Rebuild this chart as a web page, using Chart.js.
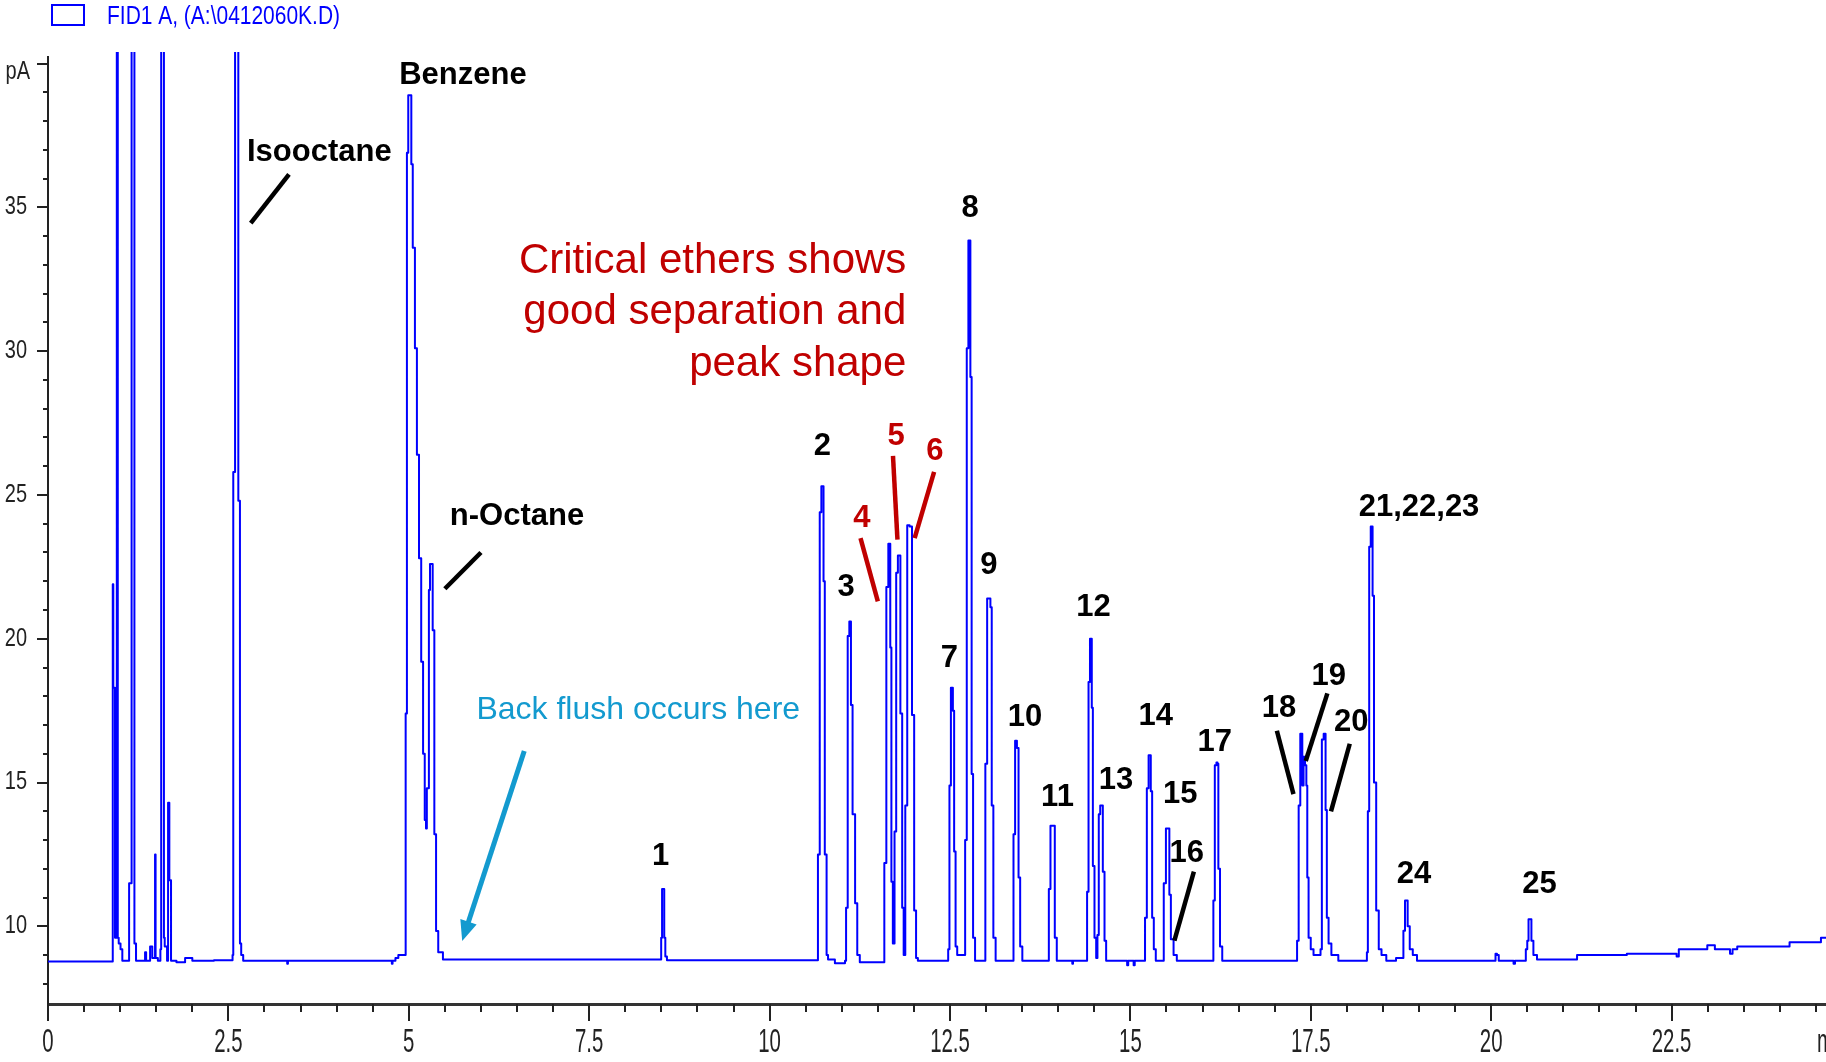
<!DOCTYPE html>
<html>
<head>
<meta charset="utf-8">
<title>Kromatogram FID1 A</title>
<script src="https://cdn.jsdelivr.net/npm/chart.js@4.4.1/dist/chart.umd.min.js"></script>
<style>
    html, body { margin: 0; padding: 0; background: #ffffff; }
    #wadah { width: 1826px; height: 1062px; }
</style>
</head>
<body>
<div id="wadah"><canvas id="grafik" width="1826" height="1062"></canvas></div>
<script>
// --- DATA KROMATOGRAM (waktu dalam menit, sinyal dalam pA) ---
// Puncak pelarut yang terpotong di atas diberi nilai 60 (keluar skala)
var waktu = [
    0.00, 0.895, 0.90, 0.91, 0.925, 0.932, 0.95, 0.957, 0.964, 0.97, 0.99, 1.02, 1.04,
    1.12, 1.128, 1.155, 1.162, 1.195, 1.20, 1.215, 1.225,
    1.34, 1.35, 1.37, 1.41, 1.42, 1.44, 1.45, 1.48, 1.487, 1.495,
    1.55, 1.565, 1.572, 1.603, 1.61, 1.625, 1.64, 1.66, 1.668, 1.678, 1.685, 1.70, 1.71,
    1.85, 1.95, 2.05,
    2.55, 2.565, 2.57, 2.59, 2.595, 2.635, 2.64, 2.655, 2.665, 2.69, 2.72,
    3.31, 3.32, 3.33, 4.76, 4.77, 4.78, 4.85, 4.86, 4.95,
    // benzene + n-octane
    4.963, 4.985, 5.00, 5.03, 5.04, 5.07, 5.10, 5.125, 5.158, 5.186, 5.21, 5.232, 5.245, 5.255, 5.27,
    5.287, 5.30, 5.32, 5.342, 5.366, 5.39, 5.426, 5.52,
    // 1
    8.49, 8.505, 8.515, 8.535, 8.545, 8.565, 8.59,
    // 2
    10.66, 10.68, 10.71, 10.725, 10.745, 10.75, 10.78, 10.80, 10.82, 10.99, 11.04,
    // 3
    11.05, 11.07, 11.095, 11.115, 11.125, 11.13, 11.17, 11.20, 11.23, 11.27,
    // 4, 5, 6
    11.58, 11.60, 11.636, 11.655, 11.665, 11.68, 11.696, 11.72,
    11.743, 11.766, 11.79, 11.80, 11.825, 11.85, 11.866,
    11.895, 11.92, 11.96, 11.987, 12.02, 12.04, 12.07,
    // 7
    12.47, 12.48, 12.505, 12.52, 12.53, 12.55, 12.565, 12.59, 12.61, 12.70,
    // 8
    12.72, 12.745, 12.765, 12.775, 12.79, 12.81, 12.83, 12.865,
    // 9
    12.98, 13.00, 13.03, 13.05, 13.07, 13.087, 13.115, 13.15,
    // 10
    13.37, 13.39, 13.415, 13.44, 13.46, 13.485, 13.52,
    // 11
    13.86, 13.88, 13.905, 13.945, 13.96, 14.00, 14.19, 14.20, 14.21,
    // 12
    14.39, 14.41, 14.43, 14.45, 14.46, 14.47, 14.49, 14.515, 14.537,
    // 13
    14.55, 14.574, 14.59, 14.606, 14.63, 14.653, 14.675,
    14.95, 14.96, 14.98, 15.04, 15.05, 15.07,
    // 14
    15.19, 15.216, 15.24, 15.265, 15.275, 15.29, 15.313, 15.336, 15.368,
    // 15, 16
    15.45, 15.475, 15.51, 15.535, 15.545, 15.577, 15.62, 15.667,
    // 17
    16.14, 16.16, 16.18, 16.205, 16.21, 16.228, 16.256, 16.29,
    // 18, 19
    17.30, 17.32, 17.344, 17.365, 17.375, 17.39, 17.41, 17.43, 17.447, 17.456, 17.483, 17.516, 17.56,
    // 20
    17.63, 17.64, 17.667, 17.69, 17.70, 17.71, 17.735, 17.758, 17.813, 17.95,
    // 21, 22, 23
    18.27, 18.285, 18.297, 18.322, 18.34, 18.35, 18.363, 18.389, 18.424, 18.46, 18.50, 18.593,
    // 24
    18.77, 18.797, 18.815, 18.835, 18.85, 18.893, 18.934, 19.01,
    20.05, 20.07, 20.09, 20.12, 20.30, 20.32, 20.34,
    // 25
    20.47, 20.49, 20.51, 20.525, 20.545, 20.57, 20.60, 20.67,
    // ekor baseline
    21.18, 21.20, 22.56, 22.58, 22.62, 22.99, 23.00, 23.09, 23.11, 23.29, 23.33, 23.36,
    23.46, 24.12, 24.15, 24.56, 24.58, 24.64
];

var sinyal = [
    8.78, 8.78, 21.9, 18.3, 18.3, 9.6, 9.6, 60, 60, 9.6, 9.4, 9.2, 8.8,
    8.8, 11.5, 11.5, 60, 60, 9.4, 9.4, 8.8,
    8.8, 9.1, 8.8, 8.8, 9.3, 9.3, 8.9, 8.9, 12.5, 8.9,
    8.8, 9.2, 60, 60, 9.6, 9.3, 9.3, 8.8, 14.3, 14.3, 11.6, 11.6, 8.8,
    8.75, 8.9, 8.8,
    8.82, 9.0, 25.8, 25.8, 60, 60, 24.8, 24.8, 9.4, 9.0, 8.8,
    8.8, 8.7, 8.8, 8.8, 8.7, 8.8, 8.9, 9.0, 9.0,
    // benzene + n-octane
    17.4, 36.9, 38.9, 38.9, 36.5, 33.6, 30.1, 26.4, 22.8, 19.2, 16.0, 13.7, 13.4, 14.8, 14.8,
    21.7, 22.6, 22.6, 20.3, 13.2, 9.84, 9.1, 8.85,
    // 1
    8.85, 9.6, 11.3, 11.3, 9.6, 8.95, 8.82,
    // 2
    8.82, 12.5, 24.4, 25.3, 25.3, 22.0, 12.5, 9.0, 8.85, 8.72, 8.72,
    // 3
    8.8, 10.65, 20.1, 20.6, 20.6, 17.7, 13.9, 10.8, 9.0, 8.75,
    // 4, 5, 6
    8.75, 12.2, 21.8, 23.3, 23.3, 19.7, 11.55, 9.4,
    13.3, 22.3, 22.9, 22.9, 17.4, 10.65, 9.0,
    14.2, 23.95, 23.9, 17.35, 10.55, 8.9, 8.8,
    // 7
    8.8, 9.2, 14.9, 18.3, 18.3, 17.5, 12.6, 9.3, 9.0, 9.0,
    // 8
    13.0, 30.1, 33.85, 33.85, 29.1, 15.3, 9.6, 8.8,
    // 9
    8.8, 15.65, 21.4, 21.4, 21.1, 14.2, 9.6, 8.8,
    // 10
    8.8, 13.2, 16.45, 16.2, 11.7, 9.3, 8.8,
    // 11
    8.8, 11.3, 13.5, 13.5, 9.6, 8.8, 8.8, 8.7, 8.8,
    // 12
    8.8, 11.2, 18.5, 20.0, 20.0, 17.6, 12.1, 9.6, 8.9,
    // 13
    9.7, 13.9, 14.2, 14.2, 11.9, 9.5, 8.8,
    8.8, 8.65, 8.8, 8.8, 8.65, 8.8,
    // 14
    8.8, 10.3, 14.8, 15.95, 15.95, 14.7, 10.3, 9.2, 8.8,
    // 15, 16
    8.8, 11.5, 13.4, 13.4, 11.1, 9.55, 9.0, 8.8,
    // 17
    8.8, 10.9, 15.6, 15.7, 15.65, 12.0, 9.3, 8.8,
    // 18, 19
    8.8, 9.5, 14.2, 16.7, 16.7, 14.9, 15.9, 15.6, 14.9, 11.7, 9.6, 9.2, 9.0,
    // 20
    9.0, 9.2, 16.5, 16.7, 16.7, 14.05, 10.3, 9.4, 9.0, 8.8,
    // 21, 22, 23
    8.8, 9.1, 14.0, 23.2, 23.9, 23.9, 21.5, 15.0, 10.55, 9.2, 9.0, 8.8,
    // 24
    8.9, 9.85, 10.9, 10.9, 10.0, 9.2, 9.0, 8.8,
    8.8, 9.05, 9.0, 8.8, 8.8, 8.7, 8.8,
    // 25
    8.8, 9.2, 9.5, 10.25, 10.25, 9.5, 9.0, 8.85,
    // ekor baseline
    8.85, 9.0, 9.05, 8.95, 9.2, 9.2, 9.34, 9.34, 9.2, 9.2, 9.05, 9.2,
    9.3, 9.3, 9.45, 9.45, 9.6, 9.6
];

// --- TICK SUMBU ---
var tickXUtama = [0, 2.5, 5, 7.5, 10, 12.5, 15, 17.5, 20, 22.5];
var labelTickX = ['0', '2.5', '5', '7.5', '10', '12.5', '15', '17.5', '20', '22.5'];
var tickYUtama = [10, 15, 20, 25, 30, 35, 40];
var labelTickY = ['10', '15', '20', '25', '30', '35', 'pA'];
var judulLegenda = 'FID1 A, (A:\\0412060K.D)';

// --- WARNA ---
var BIRU = '#0000ff';
var HITAM = '#000000';
var MERAH = '#c00000';
var CYAN = '#139acf';

// --- ANOTASI (posisi dalam satuan sumbu: menit, pA) ---
var anotasi = [
    { teks: 'Isooctane', x: 3.76, y: 36.9, warna: HITAM },
    { teks: 'Benzene', x: 5.75, y: 39.6, warna: HITAM },
    { teks: 'n-Octane', x: 6.50, y: 24.25, warna: HITAM },
    { teks: '1', x: 8.49, y: 12.43, warna: HITAM },
    { teks: '2', x: 10.73, y: 26.68, warna: HITAM },
    { teks: '3', x: 11.06, y: 21.78, warna: HITAM },
    { teks: '4', x: 11.28, y: 24.2, warna: MERAH },
    { teks: '5', x: 11.755, y: 27.03, warna: MERAH },
    { teks: '6', x: 12.29, y: 26.53, warna: MERAH },
    { teks: '7', x: 12.49, y: 19.31, warna: HITAM },
    { teks: '8', x: 12.78, y: 34.97, warna: HITAM },
    { teks: '9', x: 13.04, y: 22.55, warna: HITAM },
    { teks: '10', x: 13.54, y: 17.25, warna: HITAM },
    { teks: '11', x: 13.99, y: 14.49, warna: HITAM },
    { teks: '12', x: 14.49, y: 21.09, warna: HITAM },
    { teks: '13', x: 14.80, y: 15.06, warna: HITAM },
    { teks: '14', x: 15.35, y: 17.29, warna: HITAM },
    { teks: '15', x: 15.69, y: 14.57, warna: HITAM },
    { teks: '16', x: 15.78, y: 12.55, warna: HITAM },
    { teks: '17', x: 16.17, y: 16.4, warna: HITAM },
    { teks: '18', x: 17.06, y: 17.57, warna: HITAM },
    { teks: '19', x: 17.75, y: 18.7, warna: HITAM },
    { teks: '20', x: 18.06, y: 17.09, warna: HITAM },
    { teks: '21,22,23', x: 19.0, y: 24.57, warna: HITAM },
    { teks: '24', x: 18.93, y: 11.82, warna: HITAM },
    { teks: '25', x: 20.67, y: 11.46, warna: HITAM }
];

var teksKeterangan = ['Critical ethers shows', 'good separation and', 'peak shape'];
var posisiKeterangan = { xKanan: 11.895, y: [33.12, 31.34, 29.55] };
var teksBackflush = { teks: 'Back flush occurs here', x: 8.18, y: 17.53 };

// garis penunjuk: [x1, y1, x2, y2, warna]
var garisPenunjuk = [
    [3.34, 36.15, 2.81, 34.45, HITAM],
    [6.00, 23.0, 5.50, 21.74, HITAM],
    [11.26, 23.5, 11.50, 21.3, MERAH],
    [11.71, 26.36, 11.772, 23.45, MERAH],
    [12.28, 25.8, 12.01, 23.5, MERAH],
    [15.88, 11.9, 15.61, 9.5, HITAM],
    [17.03, 16.8, 17.26, 14.6, HITAM],
    [17.73, 18.1, 17.43, 15.75, HITAM],
    [18.04, 16.35, 17.78, 14.0, HITAM]
];
var panahBackflush = [6.60, 16.1, 5.74, 9.49];

// --- PLUGIN GAMBAR TAMBAHAN (tick, label, anotasi, legenda) ---
var pluginTambahan = {
    id: 'gambarTambahan',
    afterDraw: function(chart) {
        var ctx = chart.ctx;
        var sx = chart.scales.x;
        var sy = chart.scales.y;
        var area = chart.chartArea;

        function px(v) { return sx.getPixelForValue(v); }
        function py(v) { return sy.getPixelForValue(v); }

        ctx.save();

        // Tick sumbu Y
        ctx.strokeStyle = '#222';
        ctx.lineWidth = 2;
        sy.ticks.forEach(function(t) {
            var v = t.value;
            if (Math.abs(v - Math.round(v)) > 1e-6) return;
            var y = Math.round(py(v));
            var panjang = tickYUtama.indexOf(Math.round(v)) >= 0 ? 11 : 5;
            ctx.beginPath();
            ctx.moveTo(area.left - panjang, y);
            ctx.lineTo(area.left, y);
            ctx.stroke();
        });

        // Tick sumbu X
        sx.ticks.forEach(function(t) {
            var v = t.value;
            if (Math.abs(v * 2 - Math.round(v * 2)) > 1e-6) return;
            var x = Math.round(px(v));
            var utama = tickXUtama.some(function(u) { return Math.abs(u - v) < 1e-6; });
            ctx.beginPath();
            ctx.moveTo(x, area.bottom);
            ctx.lineTo(x, area.bottom + (utama ? 17 : 8));
            ctx.stroke();
        });

        // Label sumbu Y (sedikit dipadatkan)
        ctx.fillStyle = '#222';
        ctx.font = '25px "Liberation Sans", Arial, sans-serif';
        ctx.textAlign = 'right';
        ctx.textBaseline = 'middle';
        tickYUtama.forEach(function(v, i) {
            var teks = labelTickY[i];
            ctx.save();
            ctx.translate(teks === 'pA' ? 30 : 27, py(v) + (teks === 'pA' ? 8 : 0));
            ctx.scale(0.8, 1);
            ctx.fillText(teks, 0, 0);
            ctx.restore();
        });

        // Label sumbu X (sangat dipadatkan, terpotong di bawah)
        ctx.save();
        ctx.beginPath();
        ctx.rect(0, area.bottom, chart.width, 48);
        ctx.clip();
        ctx.font = '34px "Liberation Sans", Arial, sans-serif';
        ctx.textAlign = 'center';
        ctx.textBaseline = 'top';
        tickXUtama.forEach(function(v, i) {
            ctx.save();
            ctx.translate(px(v), area.bottom + 22);
            ctx.scale(0.6, 1);
            ctx.fillText(labelTickX[i], 0, 0);
            ctx.restore();
        });
        ctx.textAlign = 'left';
        ctx.translate(area.right - 9, area.bottom + 22);
        ctx.scale(0.6, 1);
        ctx.fillText('min', 0, 0);
        ctx.restore();

        // Garis penunjuk
        ctx.lineCap = 'butt';
        ctx.lineWidth = 4.5;
        garisPenunjuk.forEach(function(g) {
            ctx.strokeStyle = g[4];
            ctx.beginPath();
            ctx.moveTo(px(g[0]), py(g[1]));
            ctx.lineTo(px(g[2]), py(g[3]));
            ctx.stroke();
        });

        // Panah back flush
        var x1 = px(panahBackflush[0]), y1 = py(panahBackflush[1]);
        var x2 = px(panahBackflush[2]), y2 = py(panahBackflush[3]);
        var sudut = Math.atan2(y2 - y1, x2 - x1);
        var pjgKepala = 22;
        ctx.strokeStyle = CYAN;
        ctx.fillStyle = CYAN;
        ctx.lineWidth = 5;
        ctx.beginPath();
        ctx.moveTo(x1, y1);
        ctx.lineTo(x2 - Math.cos(sudut) * pjgKepala * 0.8, y2 - Math.sin(sudut) * pjgKepala * 0.8);
        ctx.stroke();
        ctx.beginPath();
        ctx.moveTo(x2, y2);
        ctx.lineTo(x2 - Math.cos(sudut - 0.4) * pjgKepala, y2 - Math.sin(sudut - 0.4) * pjgKepala);
        ctx.lineTo(x2 - Math.cos(sudut + 0.4) * pjgKepala, y2 - Math.sin(sudut + 0.4) * pjgKepala);
        ctx.closePath();
        ctx.fill();

        // Label puncak
        ctx.textAlign = 'center';
        ctx.textBaseline = 'middle';
        ctx.font = 'bold 31px "Liberation Sans", Arial, sans-serif';
        anotasi.forEach(function(a) {
            ctx.fillStyle = a.warna;
            ctx.fillText(a.teks, px(a.x), py(a.y));
        });

        // Teks back flush
        ctx.font = '32px "Liberation Sans", Arial, sans-serif';
        ctx.fillStyle = CYAN;
        ctx.fillText(teksBackflush.teks, px(teksBackflush.x), py(teksBackflush.y));

        // Keterangan merah
        ctx.font = '42px "Liberation Sans", Arial, sans-serif';
        ctx.fillStyle = MERAH;
        ctx.textAlign = 'right';
        teksKeterangan.forEach(function(baris, i) {
            ctx.fillText(baris, px(posisiKeterangan.xKanan), py(posisiKeterangan.y[i]));
        });

        // Legenda di kiri atas
        ctx.strokeStyle = BIRU;
        ctx.lineWidth = 2;
        ctx.strokeRect(52, 5, 32, 20);
        ctx.fillStyle = BIRU;
        ctx.font = '26px "Liberation Sans", Arial, sans-serif';
        ctx.textAlign = 'left';
        var lebar = ctx.measureText(judulLegenda).width;
        ctx.translate(107, 17);
        ctx.scale(233 / lebar, 1);
        ctx.fillText(judulLegenda, 0, 0);

        ctx.restore();
    }
};

// --- INISIALISASI GRAFIK CHART.JS ---
function buatGrafik() {
    var titik = waktu.map(function(t, i) {
        return { x: t, y: sinyal[i] };
    });

    var ctx = document.getElementById('grafik').getContext('2d');
    return new Chart(ctx, {
        type: 'line',
        data: {
            datasets: [{
                label: judulLegenda,
                data: titik,
                borderColor: BIRU,
                borderWidth: 2,
                borderJoinStyle: 'round',
                stepped: 'middle',
                pointRadius: 0,
                tension: 0,
                fill: false,
                clip: { left: 0, top: 5, right: 0, bottom: 0 }
            }]
        },
        options: {
            responsive: false,
            animation: false,
            devicePixelRatio: 1,
            events: [],
            layout: { padding: { top: 57, right: 0, bottom: 0, left: 0 } },
            plugins: {
                legend: { display: false },
                tooltip: { enabled: false }
            },
            scales: {
                x: {
                    type: 'linear',
                    min: 0,
                    max: 24.64,
                    grid: { display: false, drawTicks: false },
                    border: { display: true, color: '#333', width: 3 },
                    ticks: { display: false, stepSize: 0.5, includeBounds: false },
                    afterFit: function(s) { s.height = 58; }
                },
                y: {
                    min: 7.3,
                    max: 40.23,
                    grid: { display: false, drawTicks: false },
                    border: { display: true, color: '#222', width: 2 },
                    ticks: { display: false, stepSize: 1, includeBounds: false },
                    afterFit: function(s) { s.width = 48; }
                }
            }
        },
        plugins: [pluginTambahan]
    });
}

buatGrafik();
</script>
</body>
</html>
